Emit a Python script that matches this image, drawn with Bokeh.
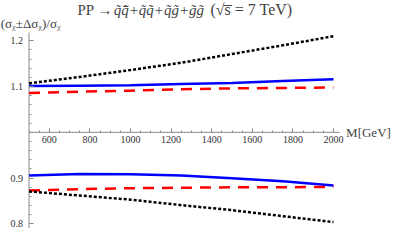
from bokeh.plotting import figure
from bokeh.models import FixedTicker, Label, Range1d
from bokeh.embed import file_html
from bokeh.resources import INLINE

# ---- data ----
mass = [500, 750, 1000, 1250, 1500, 1750, 2000]
upper_black = [1.107, 1.121, 1.136, 1.152, 1.171, 1.190, 1.210]
upper_blue = [1.101, 1.102, 1.103, 1.1055, 1.108, 1.112, 1.116]
upper_red = [1.086, 1.089, 1.091, 1.094, 1.096, 1.097, 1.098]
lower_blue = [0.906, 0.9088, 0.9085, 0.9055, 0.900, 0.893, 0.884]
lower_red = [0.873, 0.876, 0.878, 0.879, 0.880, 0.880, 0.881]
lower_black = [0.871, 0.862, 0.853, 0.841, 0.830, 0.817, 0.804]

x_major = [600, 800, 1000, 1200, 1400, 1600, 1800, 2000]
x_minor = list(range(500, 2031, 50))
y_major = [0.8, 0.9, 1.1, 1.2]
y_minor = [round(0.80 + 0.02 * i, 2) for i in range(21)]
x_axis_span = [500, 2030]
y_axis_span = [0.79, 1.218]

title_a = "PP \u2192"
title_b = "q\u0303q\u0303\u0304+q\u0303q\u0303+q\u0303g\u0303+g\u0303g\u0303"
title_c = "(\u221as\u0305 = 7 TeV)"
ylabel = "(\u03c3\u1d6a\u00b1\u0394\u03c3\u1d6a)/\u03c3\u1d6a"
xlabel = "M[GeV]"

SERIF = "Liberation Serif"
AXIS_GREY = "#8a8a8a"

p = figure(width=391, height=228, output_backend="svg", toolbar_location=None,
           x_range=Range1d(359.6, 2285.7), y_range=Range1d(0.79, 1.2879),
           min_border_left=0, min_border_right=0, min_border_top=0,
           min_border_bottom=0)
p.grid.visible = False
p.outline_line_color = None
p.background_fill_color = "white"
p.border_fill_color = "white"

# axes crossing inside the frame
p.xaxis.fixed_location = 1.0
p.yaxis.fixed_location = 500
for ax in (p.xaxis, p.yaxis):
    ax.axis_line_color = None
    ax.major_tick_line_color = AXIS_GREY
    ax.minor_tick_line_color = AXIS_GREY
    ax.major_tick_in = 4
    ax.major_tick_out = 0
    ax.minor_tick_in = 2
    ax.minor_tick_out = 0
    ax.major_label_text_font = SERIF
    ax.major_label_text_font_size = "10px"
    ax.major_label_text_color = "#333333"
p.xaxis.ticker = FixedTicker(ticks=x_major, minor_ticks=x_minor)
p.yaxis.ticker = FixedTicker(ticks=y_major, minor_ticks=y_minor)
p.xaxis.major_label_standoff = 4
p.yaxis.major_label_standoff = 6

# axis lines
p.line(x_axis_span, [1.0, 1.0], line_color=AXIS_GREY, line_width=1)
p.line([500, 500], y_axis_span, line_color=AXIS_GREY, line_width=1)

# curves
p.line(mass, upper_black, line_color="black", line_width=2.5, line_dash="3 2")
p.line(mass, upper_blue, line_color="#0000ff", line_width=2.5)
p.line(mass, upper_red, line_color="#ff0000", line_width=2.5, line_dash="11 8")
p.line(mass, lower_blue, line_color="#0000ff", line_width=2.5)
p.line(mass, lower_red, line_color="#ff0000", line_width=2.5, line_dash="11 8")
p.line(mass, lower_black, line_color="black", line_width=2.5, line_dash="3 2")

# texts
TITLE_Y = 1.2675
p.add_layout(Label(x=739, y=TITLE_Y, text=title_a, text_font=SERIF,
                   text_font_size="15px", text_baseline="middle"))
p.add_layout(Label(x=917, y=TITLE_Y, text=title_b, text_font=SERIF,
                   text_font_size="15px", text_font_style="italic",
                   text_baseline="middle"))
p.add_layout(Label(x=1394, y=TITLE_Y, text=title_c, text_font=SERIF,
                   text_font_size="16px", text_baseline="middle"))
p.add_layout(Label(x=361, y=1.238, text=ylabel, text_font=SERIF,
                   text_font_size="13px", text_baseline="middle"))
p.add_layout(Label(x=2062, y=1.0, text=xlabel, text_font=SERIF,
                   text_font_size="13px", text_baseline="middle"))

open("out.html", "w").write(file_html(p, INLINE))
